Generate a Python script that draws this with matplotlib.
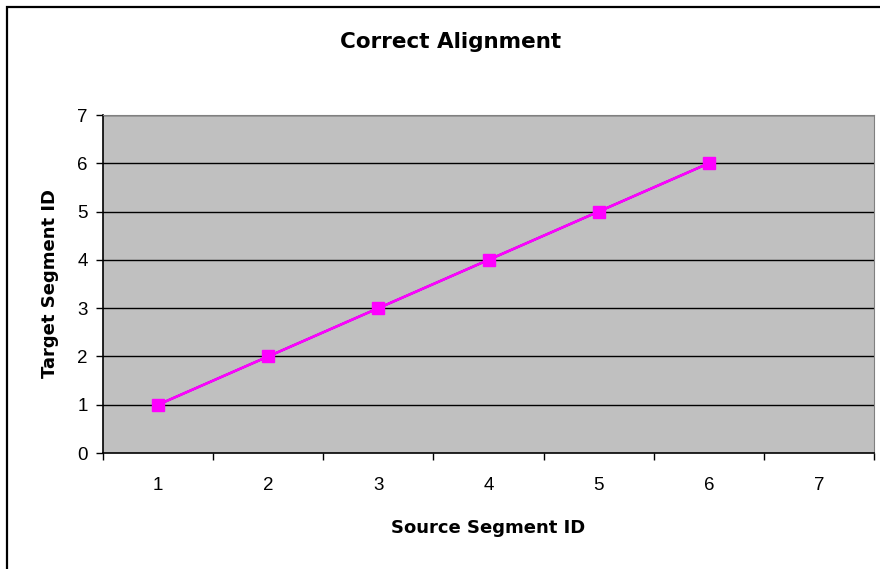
import matplotlib
matplotlib.use("Agg")
import matplotlib.pyplot as plt
import matplotlib.patches as patches
import numpy as np

# data
categories = ["1", "2", "3", "4", "5", "6", "7"]
source_ids = [1, 2, 3, 4, 5, 6]
target_ids = [1, 2, 3, 4, 5, 6]
y_ticks = [0, 1, 2, 3, 4, 5, 6, 7]

W, H = 880, 569
fig = plt.figure(figsize=(W / 100, H / 100), dpi=100)

# outer chart border (Excel style, runs off the bottom/right)
fig.patches.append(patches.Rectangle((7 / W, -0.2), 1.5, 1 - 7 / H + 0.2,
                                     transform=fig.transFigure, fill=False,
                                     edgecolor="black", linewidth=1.6))

left, right, top, bottom = 103, 874, 115, 453
ax = fig.add_axes([left / W, 1 - bottom / H, (right - left) / W, (bottom - top) / H])
ax.set_facecolor("#c0c0c0")

# categories sit in the middle of each slot
xpos = np.arange(len(categories)) + 0.5
pts_x = [xpos[categories.index(str(s))] for s in source_ids]

ax.set_xlim(0, len(categories))
ax.set_ylim(y_ticks[0], y_ticks[-1])

for y in y_ticks[1:]:
    ax.axhline(y, color="black", linewidth=1.0, zorder=1)

ax.plot(pts_x, target_ids, color="#000080", marker="D", markersize=6,
        linestyle="-", linewidth=1.5, zorder=3)
ax.plot(pts_x, target_ids, color="#ff00ff", marker="s", markersize=8,
        markeredgecolor="#ff00ff", linewidth=1.9, zorder=4)

# x ticks at slot boundaries, labels centred in slots
ax.set_xticks(np.arange(len(categories) + 1))
ax.set_xticklabels([])
ax.set_xticks(xpos, minor=True)
ax.set_xticklabels(categories, minor=True)
ax.tick_params(axis="x", which="major", direction="out", length=5, width=1, color="black")
ax.tick_params(axis="x", which="minor", length=0, pad=17, labelsize=13.5)
ax.set_yticks(y_ticks)
ax.tick_params(axis="y", direction="out", length=5, width=1, pad=6, labelsize=13.5)
for lab in ax.get_xticklabels(minor=True) + ax.get_yticklabels():
    lab.set_fontfamily("Liberation Sans")

ax.spines["left"].set_color("black")
ax.spines["bottom"].set_color("black")
ax.spines["left"].set_linewidth(1.2)
ax.spines["bottom"].set_linewidth(1.2)
ax.spines["top"].set_color("#808080")
ax.spines["right"].set_color("#808080")

ax.set_xlabel("Source Segment ID", fontsize=13, fontweight="bold",
              fontfamily="DejaVu Sans", labelpad=18)
ax.set_ylabel("Target Segment ID", fontsize=13, fontweight="bold",
              fontfamily="DejaVu Sans", labelpad=13)

fig.text(451 / W, 1 - 42 / H, "Correct Alignment", fontsize=15.5, fontweight="bold",
         fontfamily="DejaVu Sans", ha="center", va="center")

fig.savefig("out.png", dpi=100)
